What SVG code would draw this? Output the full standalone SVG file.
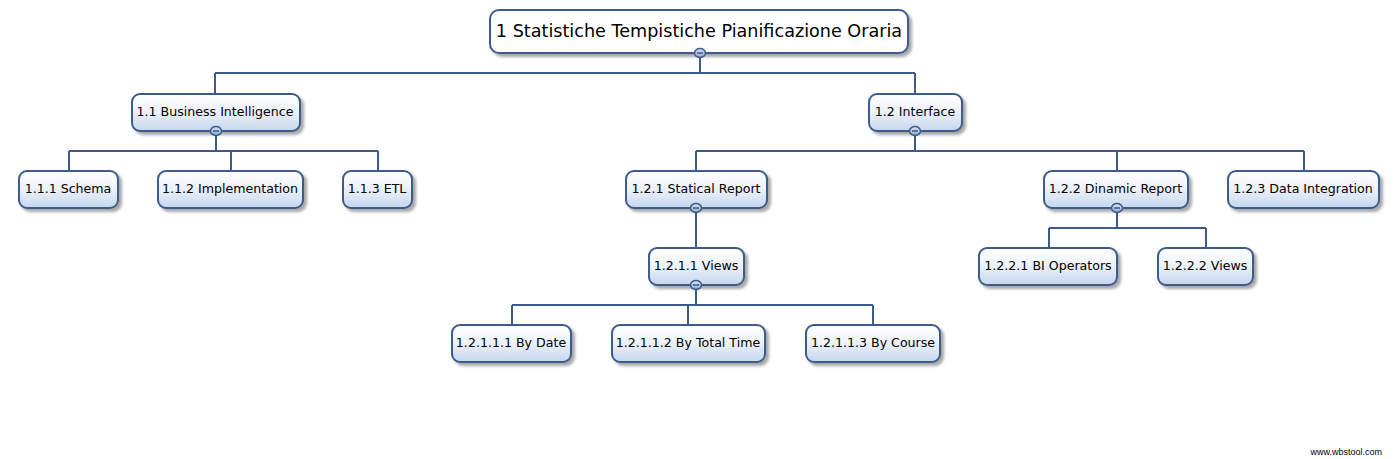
<svg xmlns="http://www.w3.org/2000/svg" width="1399" height="459" viewBox="0 0 1399 459">
<defs>
<linearGradient id="g" x1="0" y1="0" x2="0" y2="1">
<stop offset="0" stop-color="#ffffff"/>
<stop offset="0.45" stop-color="#eef3fa"/>
<stop offset="1" stop-color="#c6d6ee"/>
</linearGradient>
<linearGradient id="cg" x1="0" y1="0" x2="0" y2="1">
<stop offset="0" stop-color="#dfe8f4"/>
<stop offset="1" stop-color="#8ea8cc"/>
</linearGradient>
<filter id="sh" x="-10%" y="-20%" width="130%" height="160%">
<feGaussianBlur in="SourceAlpha" stdDeviation="1.5"/>
<feOffset dx="3" dy="3" result="b"/>
<feComponentTransfer><feFuncA type="linear" slope="0.35"/></feComponentTransfer>
<feMerge><feMergeNode/><feMergeNode in="SourceGraphic"/></feMerge>
</filter>
<g id="col">
<ellipse cx="0" cy="0" rx="5.5" ry="4.5" fill="url(#cg)" stroke="#3b5b8c" stroke-width="1.5"/>
<line x1="-3" y1="0" x2="3" y2="0" stroke="#3b5b8c" stroke-width="1.5"/>
</g>
</defs>
<style>
.box{fill:url(#g);stroke:#3b5b8c;stroke-width:2;filter:url(#sh)}
.root{fill:#ffffff;stroke:#3b5b8c;stroke-width:2;filter:url(#sh)}
.t{font-family:"DejaVu Sans",sans-serif;font-size:12.6px;fill:#000;text-anchor:middle}
.rt{font-family:"DejaVu Sans",sans-serif;font-size:17.6px;fill:#000;text-anchor:middle}
.c{fill:none;stroke:#3b5b8c;stroke-width:2}
.ft{font-family:"Liberation Sans",Arial,sans-serif;font-size:9px;fill:#000;text-anchor:end}
</style>
<rect width="1399" height="459" fill="#ffffff"/>
<g id="connectors">
<path class="c" d="M700 53V73M215 73H915M215 73V94M915 73V94"/>
<path class="c" d="M216 131V151M69 151H378M69 151V171M231 151V171M378 151V171"/>
<path class="c" d="M915 131V151M696 151H1304M696 151V171M1117 151V171M1304 151V171"/>
<path class="c" d="M696 208V248"/>
<path class="c" d="M696 285V305M512 305H873M512 305V325M688 305V325M873 305V325"/>
<path class="c" d="M1117 208V228M1049 228H1206M1049 228V248M1206 228V248"/>
</g>
<g id="n1"><rect class="root" x="490" y="10" width="418" height="43" rx="9"/><text class="rt" x="699" y="37">1 Statistiche Tempistiche Pianificazione Oraria</text><use href="#col" x="700" y="53"/></g>
<g id="n1_1"><rect class="box" x="132" y="94" width="168" height="37" rx="8"/><text class="t" x="215" y="116">1.1 Business Intelligence</text><use href="#col" x="216" y="131"/></g>
<g id="n1_2"><rect class="box" x="869" y="94" width="93" height="37" rx="8"/><text class="t" x="915" y="116">1.2 Interface</text><use href="#col" x="915" y="131"/></g>
<g id="n1_1_1"><rect class="box" x="19" y="171" width="99" height="37" rx="8"/><text class="t" x="68" y="193">1.1.1 Schema</text></g>
<g id="n1_1_2"><rect class="box" x="158" y="171" width="145" height="37" rx="8"/><text class="t" x="230" y="193">1.1.2 Implementation</text></g>
<g id="n1_1_3"><rect class="box" x="343" y="171" width="69" height="37" rx="8"/><text class="t" x="377" y="193">1.1.3 ETL</text></g>
<g id="n1_2_1"><rect class="box" x="626" y="171" width="141" height="37" rx="8"/><text class="t" x="696" y="193">1.2.1 Statical Report</text><use href="#col" x="696" y="208"/></g>
<g id="n1_2_2"><rect class="box" x="1044" y="171" width="144" height="37" rx="8"/><text class="t" x="1115.5" y="193">1.2.2 Dinamic Report</text><use href="#col" x="1117" y="208"/></g>
<g id="n1_2_3"><rect class="box" x="1228" y="171" width="151" height="37" rx="8"/><text class="t" x="1303" y="193">1.2.3 Data Integration</text></g>
<g id="n1_2_1_1"><rect class="box" x="649" y="248" width="95" height="37" rx="8"/><text class="t" x="696" y="270">1.2.1.1 Views</text><use href="#col" x="696" y="285"/></g>
<g id="n1_2_2_1"><rect class="box" x="979" y="248" width="138" height="37" rx="8"/><text class="t" x="1048" y="270">1.2.2.1 BI Operators</text></g>
<g id="n1_2_2_2"><rect class="box" x="1158" y="248" width="95" height="37" rx="8"/><text class="t" x="1205" y="270">1.2.2.2 Views</text></g>
<g id="n1_2_1_1_1"><rect class="box" x="452" y="325" width="119" height="37" rx="8"/><text class="t" x="511" y="347">1.2.1.1.1 By Date</text></g>
<g id="n1_2_1_1_2"><rect class="box" x="612" y="325" width="153" height="37" rx="8"/><text class="t" x="688" y="347">1.2.1.1.2 By Total Time</text></g>
<g id="n1_2_1_1_3"><rect class="box" x="806" y="325" width="134" height="37" rx="8"/><text class="t" x="873" y="347">1.2.1.1.3 By Course</text></g>
<text class="ft" x="1382" y="455">www.wbstool.com</text>
</svg>
